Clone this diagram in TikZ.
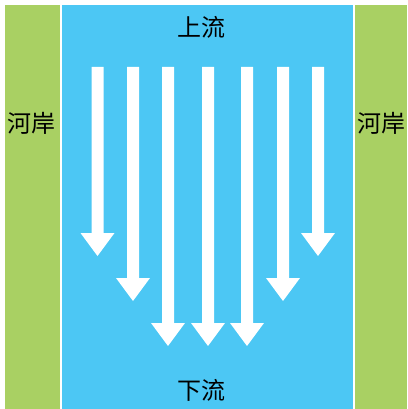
\documentclass[tikz,border=0pt]{standalone}
\usepackage{fontspec}
\newfontfamily\cjk{Noto Sans CJK SC}
\definecolor{bankgreen}{RGB}{169,208,99}
\definecolor{riverblue}{RGB}{76,199,244}
\begin{document}
\begin{tikzpicture}[x=1pt,y=-1pt,
  bank/.style={fill=bankgreen,draw=none},
  river/.style={fill=riverblue,draw=none},
  flowarrow/.style={fill=white,draw=none},
  lbl/.style={font=\cjk\fontsize{24}{24}\selectfont,inner sep=0pt,text=black}]
\useasboundingbox[fill=white] (0,0) rectangle (407,409);
\fill[bank] (5,5) rectangle (60,409);
\fill[river] (62,5) rectangle (353,409);
\fill[bank] (355,5) rectangle (407,409);
\foreach \cx/\tip in {97.5/256,133/301,168/346,208/346,247/346,283/301,318/256}{
  \fill[flowarrow] (\cx-6,67) -- (\cx+6,67) -- (\cx+6,\tip-23) -- (\cx+17,\tip-23)
     -- (\cx,\tip) -- (\cx-17,\tip-23) -- (\cx-6,\tip-23) -- cycle;
}
\node[lbl] (up) at (201.5,27) {上流};
\node[lbl] (down) at (201.5,390) {下流};
\node[lbl] (bankl) at (31,123) {河岸};
\node[lbl] (bankr) at (381,123) {河岸};
\end{tikzpicture}
\end{document}
